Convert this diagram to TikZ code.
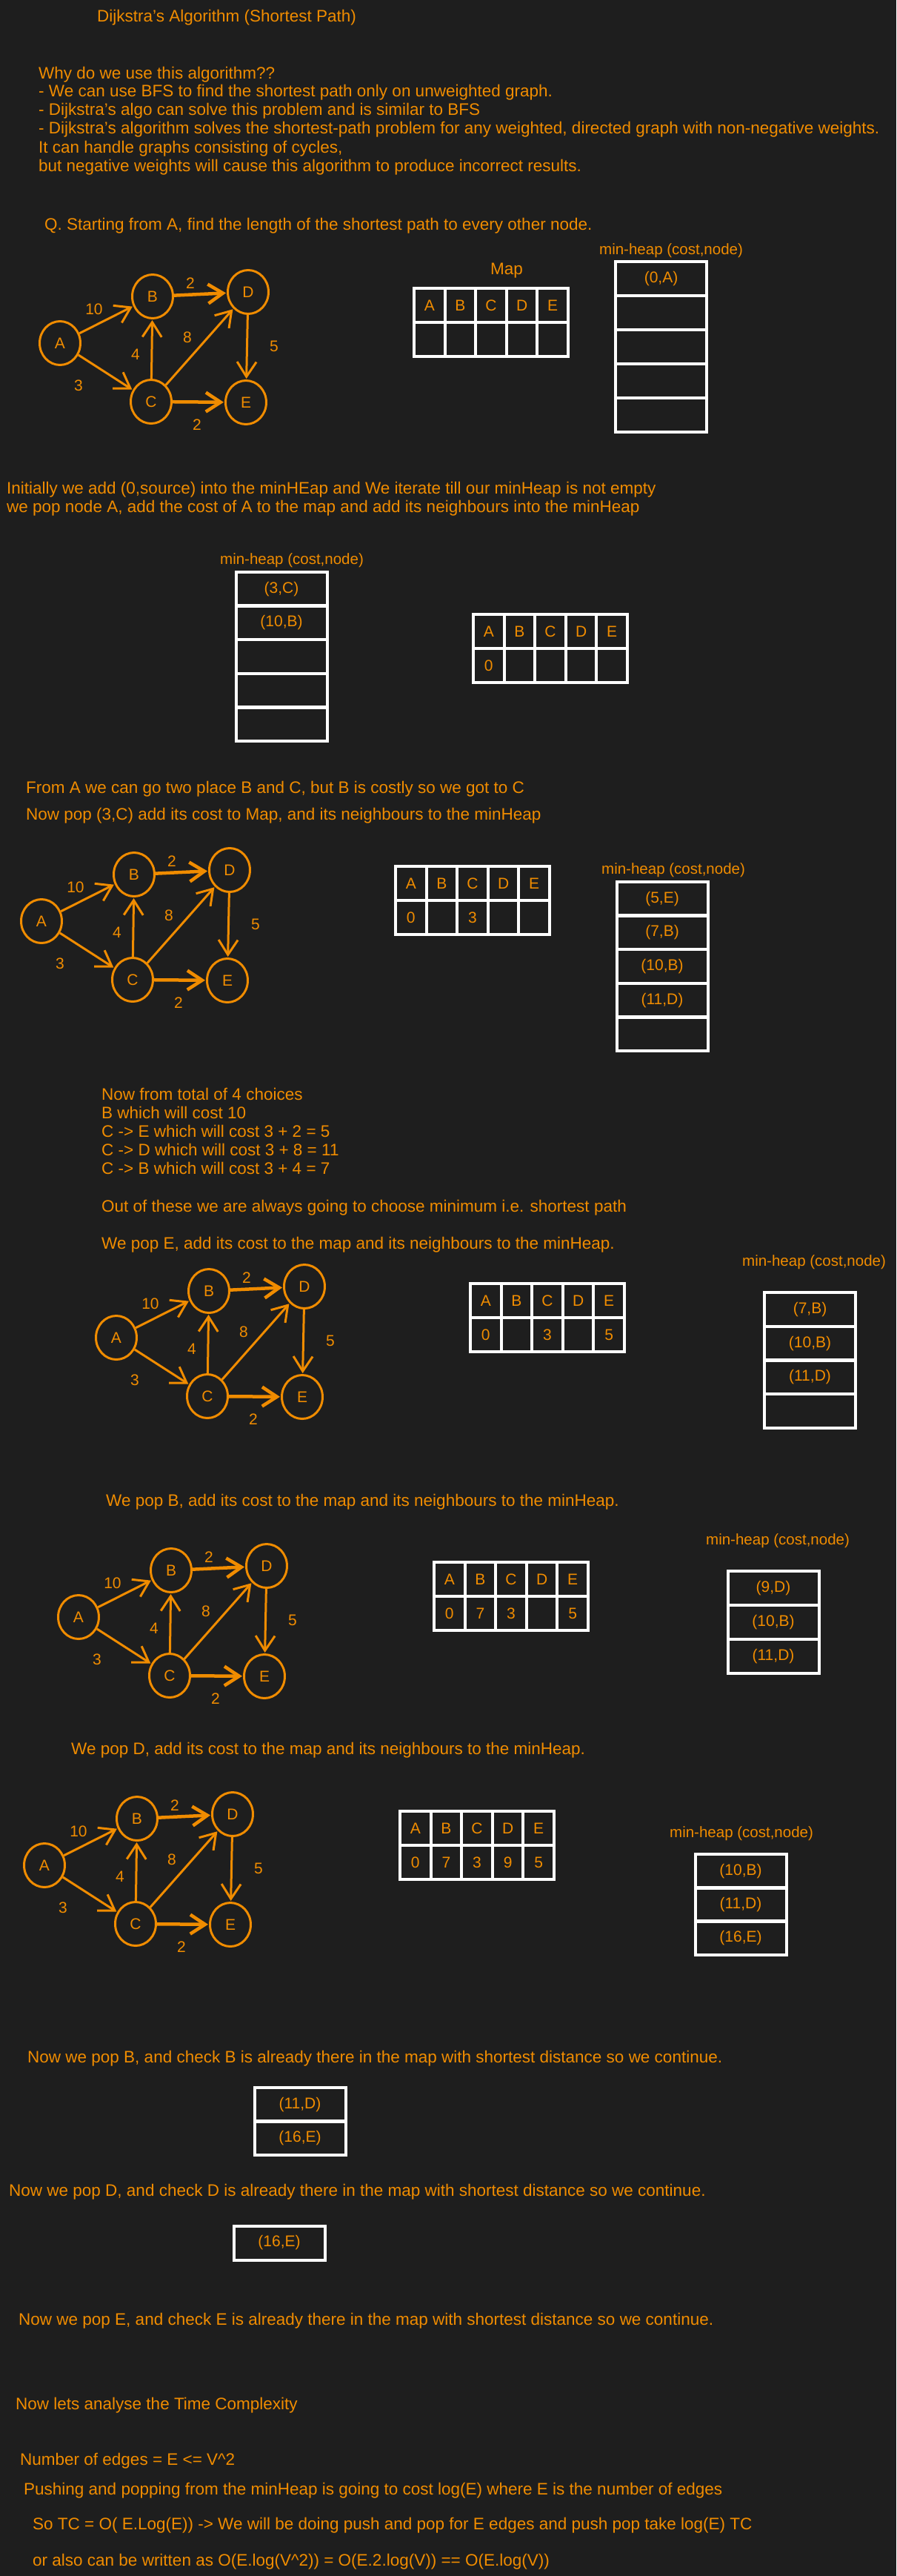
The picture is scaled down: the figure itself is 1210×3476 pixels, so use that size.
\documentclass[tikz,border=0pt]{standalone}
\usepackage{fontspec}
\setmainfont{Liberation Sans}
\usetikzlibrary{arrows.meta,shapes.geometric}
\definecolor{bg}{HTML}{1E1E1E}
\definecolor{org}{HTML}{F08C00}
\tikzset{
  txt/.style={anchor=base west, text=org, inner sep=0pt, font=\fontsize{22.5}{26}\selectfont},
  heaplbl/.style={txt, font=\fontsize{20.5}{24}\selectfont},
  gnode/.style={ellipse, draw=org, line width=3pt, minimum width=55pt, minimum height=59pt, inner sep=0pt, text=org, font=\fontsize{21}{24}\selectfont},
  garr/.style={draw=org, line width=3pt, -{Straight Barb[length=20pt,width=26pt]}, shorten >=1pt},
  thickarr/.style={garr, line width=4.5pt},
  glab/.style={text=org, font=\fontsize{21}{24}\selectfont, inner sep=0pt},
  mcell/.style={draw=white, line width=4pt, minimum width=41.6pt, minimum height=46pt, inner sep=0pt, text=org, font=\fontsize{21}{24}\selectfont},
  hcell/.style={draw=white, line width=4pt, minimum width=123pt, minimum height=46pt, inner sep=0pt, text=org, font=\fontsize{21}{24}\selectfont},
}
\newcommand{\mapgrid}[8]{%
  \begin{scope}[shift={(#2,#3)}]
    \foreach \lt [count=\i] in {A,B,C,D,E}{\node[mcell] (#1h\lt) at ({20.8+41.6*(\i-1)},23) {\lt};}
    \node[mcell] (#1vA) at (20.8,69) {#4};
    \node[mcell] (#1vB) at (62.4,69) {#5};
    \node[mcell] (#1vC) at (104,69) {#6};
    \node[mcell] (#1vD) at (145.6,69) {#7};
    \node[mcell] (#1vE) at (187.2,69) {#8};
  \end{scope}}
\newcommand{\dgraph}[3]{%
  \begin{scope}[shift={(#2,#3)}]
    \node[gnode] (#1A) at (0,0) {A};
    \node[gnode] (#1B) at (125,-63) {B};
    \node[gnode] (#1D) at (254,-69) {D};
    \node[gnode] (#1C) at (123,79) {C};
    \node[gnode] (#1E) at (251,80) {E};
    \draw[garr] (#1A) -- (#1B);
    \draw[thickarr] (#1B) -- (#1D);
    \draw[garr] (#1C) -- (#1B);
    \draw[garr] (#1C) -- (#1D);
    \draw[garr] (#1D) -- (#1E);
    \draw[garr] (#1A) -- (#1C);
    \draw[thickarr] (#1C) -- (#1E);
    \node[glab] (#1lab) at (46,-46) {10};
    \node[glab] (#1lbd) at (176,-81) {2};
    \node[glab] (#1lcd) at (172,-8) {8};
    \node[glab] (#1lcb) at (102,15) {4};
    \node[glab] (#1lde) at (289,4) {5};
    \node[glab] (#1lac) at (25,57) {3};
    \node[glab] (#1lce) at (185,110) {2};
  \end{scope}}
\newcommand{\hc}[4]{\node[hcell] (#1) at (#2,#3) {#4};}
\begin{document}
\begin{tikzpicture}[x=1pt,y=-1pt]
\fill[bg] (0,0) rectangle (1210,3476);
\useasboundingbox (0,0) rectangle (1210,3476);

% intro text
\node[txt] (title) at (131,30) {Dijkstra's Algorithm (Shortest Path)};
\node[txt] (t1) at (52,107) {Why do we use this algorithm??};
\node[txt] (t2) at (52,131) {- We can use BFS to find the shortest path only on unweighted graph.};
\node[txt] (t3) at (52,156) {- Dijkstra's algo can solve this problem and is similar to BFS};
\node[txt] (t4) at (52,181) {- Dijkstra's algorithm solves the shortest-path problem for any weighted, directed graph with non-negative weights.};
\node[txt] (t5) at (52,207) {It can handle graphs consisting of cycles,};
\node[txt] (t6) at (52,232) {but negative weights will cause this algorithm to produce incorrect results.};
\node[txt] (q) at (60,310) {Q. Starting from A, find the length of the shortest path to every other node.};

% step 0
\dgraph{ga}{81}{463}
\node[txt, anchor=base] (maplbl) at (684,370) {Map};
\mapgrid{ma}{559}{389}{}{}{}{}{}
\node[heaplbl] (mh1) at (809,343) {min-heap (cost,node)};
\hc{h1a}{892.5}{376}{(0,A)}
\hc{h1b}{892.5}{422}{}
\hc{h1c}{892.5}{468}{}
\hc{h1d}{892.5}{514}{}
\hc{h1e}{892.5}{560}{}

% step 1
\node[txt] (i1) at (9,666) {Initially we add (0,source) into the minHEap and We iterate till our minHeap is not empty};
\node[txt] (i2) at (9,691) {we pop node A, add the cost of A to the map and add its neighbours into the minHeap};
\node[heaplbl] (mh2) at (297,761) {min-heap (cost,node)};
\hc{h2a}{380}{794.8}{(3,C)}
\hc{h2b}{380}{840.4}{(10,B)}
\hc{h2c}{380}{886}{}
\hc{h2d}{380}{931.6}{}
\hc{h2e}{380}{977.2}{}
\mapgrid{mb}{639}{829}{0}{}{}{}{}

% step 2
\node[txt] (f1) at (35,1070) {From A we can go two place B and C, but B is costly so we got to C};
\node[txt] (f2) at (35,1106) {Now pop (3,C) add its cost to Map, and its neighbours to the minHeap};
\dgraph{gb}{56}{1243}
\mapgrid{mc}{534}{1169}{0}{}{3}{}{}
\node[heaplbl] (mh3) at (812,1179) {min-heap (cost,node)};
\hc{h3a}{894}{1212.8}{(5,E)}
\hc{h3b}{894}{1258.4}{(7,B)}
\hc{h3c}{894}{1304}{(10,B)}
\hc{h3d}{894}{1349.6}{(11,D)}
\hc{h3e}{894}{1395.2}{}

% step 3
\node[txt] (n1) at (137,1484) {Now from total of 4 choices};
\node[txt] (n2) at (137,1509) {B which will cost 10};
\node[txt] (n3) at (137,1534) {C -> E which will cost 3 + 2 = 5};
\node[txt] (n4) at (137,1559) {C -> D which will cost 3 + 8 = 11};
\node[txt] (n5) at (137,1584) {C -> B which will cost 3 + 4 = 7};
\node[txt] (n6) at (137,1635) {Out of these we are always going to choose minimum i.e. shortest path};
\node[txt] (n7) at (137,1685) {We pop E, add its cost to the map and its neighbours to the minHeap.};
\node[heaplbl] (mh4) at (1002,1708) {min-heap (cost,node)};
\dgraph{gc}{157}{1805}
\mapgrid{md}{635}{1732}{0}{}{3}{}{5}
\hc{h4a}{1093.5}{1766.9}{(7,B)}
\hc{h4b}{1093.5}{1812.6}{(10,B)}
\hc{h4c}{1093.5}{1858.4}{(11,D)}
\hc{h4d}{1093.5}{1904.1}{}

% step 4
\node[txt] (p1) at (143,2032) {We pop B, add its cost to the map and its neighbours to the minHeap.};
\node[heaplbl] (mh5) at (953,2084) {min-heap (cost,node)};
\dgraph{gd}{106}{2182}
\mapgrid{me}{586}{2108}{0}{7}{3}{}{5}
\hc{h5a}{1044}{2143}{(9,D)}
\hc{h5b}{1044}{2189}{(10,B)}
\hc{h5c}{1044}{2235}{(11,D)}

% step 5
\node[txt] (p2) at (96,2367) {We pop D, add its cost to the map and its neighbours to the minHeap.};
\dgraph{ge}{60}{2517}
\mapgrid{mf}{540}{2444}{0}{7}{3}{9}{5}
\node[heaplbl] (mh6) at (904,2479) {min-heap (cost,node)};
\hc{h6a}{1000}{2524.7}{(10,B)}
\hc{h6b}{1000}{2570}{(11,D)}
\hc{h6c}{1000}{2615.3}{(16,E)}

% remaining pops
\node[txt] (r1) at (37,2783) {Now we pop B, and check B is already there in the map with shortest distance so we continue.};
\hc{h7a}{405}{2839.75}{(11,D)}
\hc{h7b}{405}{2885.25}{(16,E)}
\node[txt] (r2) at (12,2963) {Now we pop D, and check D is already there in the map with shortest distance so we continue.};
\hc{h8a}{377}{3026.5}{(16,E)}
\node[txt] (r3) at (25,3137) {Now we pop E, and check E is already there in the map with shortest distance so we continue.};

% complexity
\node[txt] (s1) at (21,3251) {Now lets analyse the Time Complexity};
\node[txt] (s2) at (27,3326) {Number of edges = E <= V\textasciicircum 2};
\node[txt] (s3) at (32,3366) {Pushing and popping from the minHeap is going to cost log(E) where E is the number of edges};
\node[txt] (s4) at (44,3413) {So TC = O( E.Log(E)) -> We will be doing push and pop for E edges and push pop take log(E) TC};
\node[txt] (s5) at (44,3462) {or also can be written as O(E.log(V\textasciicircum 2)) = O(E.2.log(V)) == O(E.log(V))};
\end{tikzpicture}
\end{document}
